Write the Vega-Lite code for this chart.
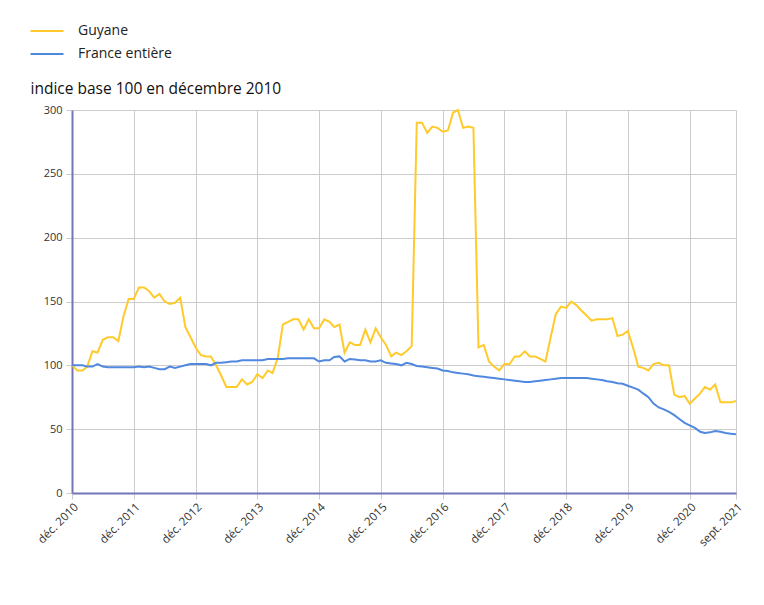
{
  "$schema": "https://vega.github.io/schema/vega-lite/v6.json",
  "autosize": {"type": "none"},
  "width": 664,
  "height": 383,
  "padding": {"left": 72, "top": 110, "right": 28, "bottom": 112},
  "background": "white",
  "config": {
    "font": "Open Sans",
    "view": {"stroke": null}
  },
  "data": {
    "values": [
      {"mois": "2010-12-01T00:00:00", "Guyane": 100, "France entière": 100},
      {"mois": "2011-01-01T00:00:00", "Guyane": 96, "France entière": 100},
      {"mois": "2011-02-01T00:00:00", "Guyane": 96, "France entière": 100},
      {"mois": "2011-03-01T00:00:00", "Guyane": 99, "France entière": 99},
      {"mois": "2011-04-01T00:00:00", "Guyane": 111, "France entière": 99},
      {"mois": "2011-05-01T00:00:00", "Guyane": 110, "France entière": 101},
      {"mois": "2011-06-01T00:00:00", "Guyane": 120, "France entière": 99},
      {"mois": "2011-07-01T00:00:00", "Guyane": 122, "France entière": 98.5},
      {"mois": "2011-08-01T00:00:00", "Guyane": 122, "France entière": 98.5},
      {"mois": "2011-09-01T00:00:00", "Guyane": 119, "France entière": 98.5},
      {"mois": "2011-10-01T00:00:00", "Guyane": 138, "France entière": 98.5},
      {"mois": "2011-11-01T00:00:00", "Guyane": 152, "France entière": 98.5},
      {"mois": "2011-12-01T00:00:00", "Guyane": 152, "France entière": 98.5},
      {"mois": "2012-01-01T00:00:00", "Guyane": 161, "France entière": 99},
      {"mois": "2012-02-01T00:00:00", "Guyane": 161, "France entière": 98.5},
      {"mois": "2012-03-01T00:00:00", "Guyane": 158, "France entière": 99},
      {"mois": "2012-04-01T00:00:00", "Guyane": 153, "France entière": 98},
      {"mois": "2012-05-01T00:00:00", "Guyane": 156, "France entière": 97},
      {"mois": "2012-06-01T00:00:00", "Guyane": 150, "France entière": 97},
      {"mois": "2012-07-01T00:00:00", "Guyane": 148, "France entière": 99},
      {"mois": "2012-08-01T00:00:00", "Guyane": 149, "France entière": 98},
      {"mois": "2012-09-01T00:00:00", "Guyane": 153, "France entière": 99},
      {"mois": "2012-10-01T00:00:00", "Guyane": 130, "France entière": 100},
      {"mois": "2012-11-01T00:00:00", "Guyane": 122, "France entière": 101},
      {"mois": "2012-12-01T00:00:00", "Guyane": 114, "France entière": 101},
      {"mois": "2013-01-01T00:00:00", "Guyane": 108, "France entière": 101},
      {"mois": "2013-02-01T00:00:00", "Guyane": 107, "France entière": 101},
      {"mois": "2013-03-01T00:00:00", "Guyane": 107, "France entière": 100},
      {"mois": "2013-04-01T00:00:00", "Guyane": 100, "France entière": 102},
      {"mois": "2013-05-01T00:00:00", "Guyane": 92, "France entière": 102},
      {"mois": "2013-06-01T00:00:00", "Guyane": 83, "France entière": 102.5},
      {"mois": "2013-07-01T00:00:00", "Guyane": 83, "France entière": 103},
      {"mois": "2013-08-01T00:00:00", "Guyane": 83, "France entière": 103},
      {"mois": "2013-09-01T00:00:00", "Guyane": 89, "France entière": 104},
      {"mois": "2013-10-01T00:00:00", "Guyane": 85, "France entière": 104},
      {"mois": "2013-11-01T00:00:00", "Guyane": 87, "France entière": 104},
      {"mois": "2013-12-01T00:00:00", "Guyane": 93, "France entière": 104},
      {"mois": "2014-01-01T00:00:00", "Guyane": 90, "France entière": 104},
      {"mois": "2014-02-01T00:00:00", "Guyane": 96, "France entière": 105},
      {"mois": "2014-03-01T00:00:00", "Guyane": 94, "France entière": 105},
      {"mois": "2014-04-01T00:00:00", "Guyane": 106, "France entière": 105},
      {"mois": "2014-05-01T00:00:00", "Guyane": 132, "France entière": 105},
      {"mois": "2014-06-01T00:00:00", "Guyane": 134, "France entière": 105.5},
      {"mois": "2014-07-01T00:00:00", "Guyane": 136, "France entière": 105.5},
      {"mois": "2014-08-01T00:00:00", "Guyane": 136, "France entière": 105.5},
      {"mois": "2014-09-01T00:00:00", "Guyane": 128, "France entière": 105.5},
      {"mois": "2014-10-01T00:00:00", "Guyane": 136, "France entière": 105.5},
      {"mois": "2014-11-01T00:00:00", "Guyane": 129, "France entière": 105.5},
      {"mois": "2014-12-01T00:00:00", "Guyane": 129, "France entière": 103},
      {"mois": "2015-01-01T00:00:00", "Guyane": 136, "France entière": 104},
      {"mois": "2015-02-01T00:00:00", "Guyane": 134, "France entière": 104},
      {"mois": "2015-03-01T00:00:00", "Guyane": 130, "France entière": 106.5},
      {"mois": "2015-04-01T00:00:00", "Guyane": 132, "France entière": 107},
      {"mois": "2015-05-01T00:00:00", "Guyane": 110, "France entière": 103},
      {"mois": "2015-06-01T00:00:00", "Guyane": 118, "France entière": 105},
      {"mois": "2015-07-01T00:00:00", "Guyane": 116, "France entière": 104.5},
      {"mois": "2015-08-01T00:00:00", "Guyane": 116, "France entière": 104},
      {"mois": "2015-09-01T00:00:00", "Guyane": 128, "France entière": 104},
      {"mois": "2015-10-01T00:00:00", "Guyane": 118, "France entière": 103},
      {"mois": "2015-11-01T00:00:00", "Guyane": 129, "France entière": 103},
      {"mois": "2015-12-01T00:00:00", "Guyane": 122, "France entière": 104},
      {"mois": "2016-01-01T00:00:00", "Guyane": 116, "France entière": 102},
      {"mois": "2016-02-01T00:00:00", "Guyane": 107, "France entière": 101.5},
      {"mois": "2016-03-01T00:00:00", "Guyane": 110, "France entière": 101},
      {"mois": "2016-04-01T00:00:00", "Guyane": 108, "France entière": 100},
      {"mois": "2016-05-01T00:00:00", "Guyane": 111, "France entière": 102},
      {"mois": "2016-06-01T00:00:00", "Guyane": 115, "France entière": 101},
      {"mois": "2016-07-01T00:00:00", "Guyane": 290, "France entière": 99.5},
      {"mois": "2016-08-01T00:00:00", "Guyane": 290, "France entière": 99},
      {"mois": "2016-09-01T00:00:00", "Guyane": 282, "France entière": 98.5},
      {"mois": "2016-10-01T00:00:00", "Guyane": 287, "France entière": 98},
      {"mois": "2016-11-01T00:00:00", "Guyane": 286, "France entière": 97.5},
      {"mois": "2016-12-01T00:00:00", "Guyane": 283, "France entière": 96},
      {"mois": "2017-01-01T00:00:00", "Guyane": 284, "France entière": 95.5},
      {"mois": "2017-02-01T00:00:00", "Guyane": 298, "France entière": 94.5},
      {"mois": "2017-03-01T00:00:00", "Guyane": 300, "France entière": 94},
      {"mois": "2017-04-01T00:00:00", "Guyane": 286, "France entière": 93.5},
      {"mois": "2017-05-01T00:00:00", "Guyane": 287, "France entière": 93},
      {"mois": "2017-06-01T00:00:00", "Guyane": 286, "France entière": 92},
      {"mois": "2017-07-01T00:00:00", "Guyane": 114, "France entière": 91.5},
      {"mois": "2017-08-01T00:00:00", "Guyane": 116, "France entière": 91},
      {"mois": "2017-09-01T00:00:00", "Guyane": 103, "France entière": 90.5},
      {"mois": "2017-10-01T00:00:00", "Guyane": 99, "France entière": 90},
      {"mois": "2017-11-01T00:00:00", "Guyane": 96, "France entière": 89.5},
      {"mois": "2017-12-01T00:00:00", "Guyane": 101, "France entière": 89},
      {"mois": "2018-01-01T00:00:00", "Guyane": 101, "France entière": 88.5},
      {"mois": "2018-02-01T00:00:00", "Guyane": 107, "France entière": 88},
      {"mois": "2018-03-01T00:00:00", "Guyane": 107, "France entière": 87.5},
      {"mois": "2018-04-01T00:00:00", "Guyane": 111, "France entière": 87},
      {"mois": "2018-05-01T00:00:00", "Guyane": 107, "France entière": 87},
      {"mois": "2018-06-01T00:00:00", "Guyane": 107, "France entière": 87.5},
      {"mois": "2018-07-01T00:00:00", "Guyane": 105, "France entière": 88},
      {"mois": "2018-08-01T00:00:00", "Guyane": 103, "France entière": 88.5},
      {"mois": "2018-09-01T00:00:00", "Guyane": 122, "France entière": 89},
      {"mois": "2018-10-01T00:00:00", "Guyane": 140, "France entière": 89.5},
      {"mois": "2018-11-01T00:00:00", "Guyane": 146, "France entière": 90},
      {"mois": "2018-12-01T00:00:00", "Guyane": 145, "France entière": 90},
      {"mois": "2019-01-01T00:00:00", "Guyane": 150, "France entière": 90},
      {"mois": "2019-02-01T00:00:00", "Guyane": 147, "France entière": 90},
      {"mois": "2019-03-01T00:00:00", "Guyane": 143, "France entière": 90},
      {"mois": "2019-04-01T00:00:00", "Guyane": 139, "France entière": 90},
      {"mois": "2019-05-01T00:00:00", "Guyane": 135, "France entière": 89.5},
      {"mois": "2019-06-01T00:00:00", "Guyane": 136, "France entière": 89},
      {"mois": "2019-07-01T00:00:00", "Guyane": 136, "France entière": 88.5},
      {"mois": "2019-08-01T00:00:00", "Guyane": 136, "France entière": 87.5},
      {"mois": "2019-09-01T00:00:00", "Guyane": 137, "France entière": 87},
      {"mois": "2019-10-01T00:00:00", "Guyane": 123, "France entière": 86},
      {"mois": "2019-11-01T00:00:00", "Guyane": 124, "France entière": 85.5},
      {"mois": "2019-12-01T00:00:00", "Guyane": 127, "France entière": 84},
      {"mois": "2020-01-01T00:00:00", "Guyane": 114, "France entière": 82.5},
      {"mois": "2020-02-01T00:00:00", "Guyane": 99, "France entière": 81},
      {"mois": "2020-03-01T00:00:00", "Guyane": 98, "France entière": 78},
      {"mois": "2020-04-01T00:00:00", "Guyane": 96, "France entière": 75},
      {"mois": "2020-05-01T00:00:00", "Guyane": 101, "France entière": 70},
      {"mois": "2020-06-01T00:00:00", "Guyane": 102, "France entière": 67},
      {"mois": "2020-07-01T00:00:00", "Guyane": 100, "France entière": 65.5},
      {"mois": "2020-08-01T00:00:00", "Guyane": 100, "France entière": 63.5},
      {"mois": "2020-09-01T00:00:00", "Guyane": 77, "France entière": 61},
      {"mois": "2020-10-01T00:00:00", "Guyane": 75, "France entière": 58},
      {"mois": "2020-11-01T00:00:00", "Guyane": 76, "France entière": 55},
      {"mois": "2020-12-01T00:00:00", "Guyane": 70, "France entière": 53},
      {"mois": "2021-01-01T00:00:00", "Guyane": 74, "France entière": 51},
      {"mois": "2021-02-01T00:00:00", "Guyane": 78, "France entière": 48},
      {"mois": "2021-03-01T00:00:00", "Guyane": 83, "France entière": 47},
      {"mois": "2021-04-01T00:00:00", "Guyane": 81, "France entière": 47.5},
      {"mois": "2021-05-01T00:00:00", "Guyane": 85, "France entière": 48.5},
      {"mois": "2021-06-01T00:00:00", "Guyane": 71, "France entière": 48},
      {"mois": "2021-07-01T00:00:00", "Guyane": 71, "France entière": 47},
      {"mois": "2021-08-01T00:00:00", "Guyane": 71, "France entière": 46.5},
      {"mois": "2021-09-01T00:00:00", "Guyane": 72, "France entière": 46}
    ]
  },
  "transform": [
    {"fold": ["Guyane", "France entière"], "as": ["serie", "valeur"]}
  ],
  "mark": {"type": "line", "strokeWidth": 2, "interpolate": "linear"},
  "encoding": {
    "x": {
      "field": "mois",
      "type": "temporal",
      "scale": {"domain": [{"year": 2010, "month": 12, "date": 1}, {"year": 2021, "month": 9, "date": 1}]},
      "axis": {
        "title": null,
        "values": [
          {"year": 2010, "month": 12, "date": 1},
          {"year": 2011, "month": 12, "date": 1},
          {"year": 2012, "month": 12, "date": 1},
          {"year": 2013, "month": 12, "date": 1},
          {"year": 2014, "month": 12, "date": 1},
          {"year": 2015, "month": 12, "date": 1},
          {"year": 2016, "month": 12, "date": 1},
          {"year": 2017, "month": 12, "date": 1},
          {"year": 2018, "month": 12, "date": 1},
          {"year": 2019, "month": 12, "date": 1},
          {"year": 2020, "month": 12, "date": 1},
          {"year": 2021, "month": 9, "date": 1}
        ],
        "labelExpr": "(timeFormat(datum.value, '%m') == '12' ? 'déc. ' : 'sept. ') + timeFormat(datum.value, '%Y')",
        "labelAngle": -45,
        "labelFontSize": 11.5,
        "labelColor": "#333333",
        "labelPadding": 2,
        "labelOverlap": false,
        "labelFlush": false,
        "grid": true,
        "gridColor": "#cccccc",
        "gridWidth": 1,
        "domainColor": "#7474b8",
        "domainWidth": 2,
        "tickColor": "#cccccc",
        "tickSize": 6
      }
    },
    "y": {
      "field": "valeur",
      "type": "quantitative",
      "scale": {"domain": [0, 300], "nice": false},
      "axis": {
        "title": "indice base 100 en décembre 2010",
        "titleAngle": 0,
        "titleAlign": "left",
        "titleBaseline": "alphabetic",
        "titleX": -42,
        "titleY": -17,
        "titleFontSize": 15.5,
        "titleFontWeight": "normal",
        "titleColor": "#111111",
        "values": [0, 50, 100, 150, 200, 250, 300],
        "labelFontSize": 11,
        "labelColor": "#333333",
        "labelPadding": 4,
        "grid": true,
        "gridColor": "#cccccc",
        "gridWidth": 1,
        "domainColor": "#7474b8",
        "domainWidth": 2,
        "tickColor": "#cccccc",
        "tickSize": 6
      }
    },
    "color": {
      "field": "serie",
      "type": "nominal",
      "scale": {"domain": ["Guyane", "France entière"], "range": ["#ffca2c", "#5088e0"]},
      "legend": {
        "title": null,
        "orient": "none",
        "legendX": -37,
        "legendY": -91,
        "symbolType": "M-1.5,0H1.5",
        "symbolSize": 484,
        "symbolStrokeWidth": 2,
        "labelFontSize": 14,
        "labelColor": "#222222",
        "labelOffset": 19,
        "rowPadding": 4
      }
    }
  }
}
